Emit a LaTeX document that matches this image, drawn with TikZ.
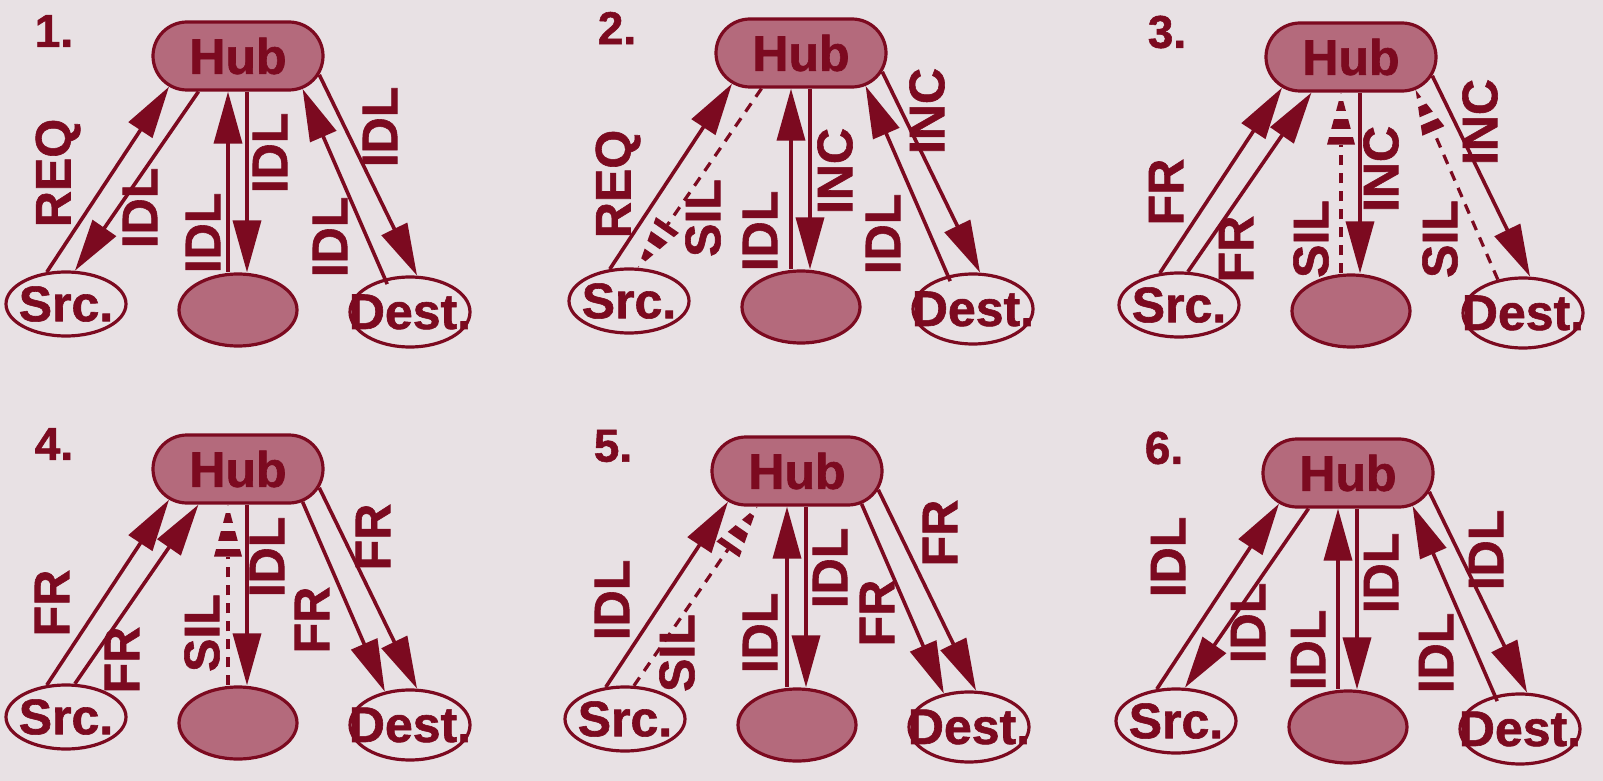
\documentclass[tikz,border=0pt]{standalone}
\usepackage{fontspec}
\setmainfont{Liberation Sans}[BoldFeatures={FakeBold=1.2}]
\usetikzlibrary{arrows.meta,calc,shapes.geometric,shapes.misc}
\definecolor{wine}{RGB}{124,10,32}
\definecolor{hubpink}{RGB}{180,106,124}
\definecolor{paper}{RGB}{232,225,228}

\tikzset{
  hubnode/.style={rounded rectangle,draw=wine,fill=hubpink,line width=1.6pt,
    minimum width=85pt,minimum height=34pt,inner sep=0pt},
  endnode/.style={ellipse,draw=wine,line width=1.6pt,inner sep=0pt,
    minimum width=60pt,minimum height=32pt},
  busynode/.style={endnode,fill=hubpink,minimum width=59pt,minimum height=36pt},
  msg/.style={draw=wine,line width=1.8pt,-{Triangle[length=26pt,width=14pt]}},
  sil/.style={draw=wine,line width=1.6pt,dash pattern=on 5pt off 4pt},
  silhead/.style={draw=wine,line width=16pt,dash pattern=on 5pt off 4pt},
  lab/.style={rotate=90,inner sep=0pt},
  num/.style={font=\fontsize{23}{23}\selectfont\bfseries,inner sep=0pt}
}

% hub, three stations and the step number of one panel
\newcommand{\station}[1]{%
  \node[num] (n#1) at (-184,25) {#1.};
  \node[hubnode] (hub#1) at (0,0) {Hub};
  \node[endnode,label=center:Src.] (src#1) at (-172,-248) {};
  \node[busynode] (mid#1) at (0,-254) {};
  \node[endnode,minimum height=35pt,label=center:Dest.] (dest#1) at (172,-256) {};
}
% dashed arrow with a striped head, #1 tail, #2 tip
\newcommand{\silarrow}[2]{%
  \begin{scope}
    \clip (#2) -- ($(#2)!26pt!(#1)!7pt!90:(#2)$)
      -- ($(#2)!26pt!(#1)!7pt!-90:(#2)$) -- cycle;
    \draw[silhead] (#1) -- (#2);
  \end{scope}
  \draw[sil] (#1) -- ($(#2)!26pt!(#1)$);
}

\begin{document}
\begin{tikzpicture}[x=0.5pt,y=0.5pt,text=wine,
    font=\fontsize{25}{25}\selectfont\bfseries]
  \fill[paper] (0,0) rectangle (1603,-781);

  % 1.
  \begin{scope}[shift={(238,-56)}]
    \station{1}
    \draw[msg] (src1.121) -- (hub1.204);
    \draw[msg] (hub1.222) -- (src1.75);
    \draw[msg] ([xshift=-5pt]mid1.north) -- ([xshift=-5pt]hub1.south);
    \draw[msg] ([xshift=4.5pt]hub1.south) -- ([xshift=4.5pt]mid1.north);
    \draw[msg,shorten <=-3pt] (dest1.127) -- (hub1.333);
    \draw[msg] (hub1.347) -- (dest1.79);
    \node[lab] (lab1a) at (-180,-117) {REQ};
    \node[lab] (lab1b) at (-98,-152) {IDL};
    \node[lab] (lab1c) at (-35,-177) {IDL};
    \node[lab] (lab1d) at (32,-97) {IDL};
    \node[lab] (lab1e) at (92,-181) {IDL};
    \node[lab] (lab1f) at (142,-71) {IDL};
  \end{scope}

  % 2.
  \begin{scope}[shift={(801,-53)}]
    \station{2}
    \draw[msg] (src2.121) -- (hub2.204);
    \silarrow{hub2.222}{src2.75}
    \draw[msg] ([xshift=-5pt]mid2.north) -- ([xshift=-5pt]hub2.south);
    \draw[msg] ([xshift=4.5pt]hub2.south) -- ([xshift=4.5pt]mid2.north);
    \draw[msg,shorten <=-3pt] (dest2.127) -- (hub2.333);
    \draw[msg] (hub2.347) -- (dest2.79);
    \node[lab] (lab2a) at (-183,-131) {REQ};
    \node[lab] (lab2b) at (-98,-165) {SIL};
    \node[lab] (lab2c) at (-41,-178) {IDL};
    \node[lab] (lab2d) at (34,-118) {INC};
    \node[lab] (lab2e) at (82,-181) {IDL};
    \node[lab] (lab2f) at (126,-58) {INC};
  \end{scope}

  % 3.
  \begin{scope}[shift={(1351,-57)}]
    \station{3}
    \draw[msg] (src3.121) -- (hub3.204);
    \draw[msg] (src3.75) -- (hub3.222);
    \silarrow{[xshift=-5pt]mid3.north}{[xshift=-5pt]hub3.south}
    \draw[msg] ([xshift=4.5pt]hub3.south) -- ([xshift=4.5pt]mid3.north);
    \silarrow{dest3.127}{hub3.333}
    \draw[msg] (hub3.347) -- (dest3.79);
    \node[lab] (lab3a) at (-185,-135) {FR};
    \node[lab] (lab3b) at (-115,-192) {FR};
    \node[lab] (lab3c) at (-40,-182) {SIL};
    \node[lab] (lab3d) at (30,-112) {INC};
    \node[lab] (lab3e) at (89,-182) {SIL};
    \node[lab] (lab3f) at (129,-65) {INC};
  \end{scope}

  % 4.
  \begin{scope}[shift={(238,-469)}]
    \station{4}
    \draw[msg] (src4.121) -- (hub4.204);
    \draw[msg] (src4.75) -- (hub4.222);
    \silarrow{[xshift=-5pt]mid4.north}{[xshift=-5pt]hub4.south}
    \draw[msg] ([xshift=4.5pt]hub4.south) -- ([xshift=4.5pt]mid4.north);
    \draw[msg] (hub4.333) -- (dest4.127);
    \draw[msg] (hub4.347) -- (dest4.79);
    \node[lab] (lab4a) at (-186,-134) {FR};
    \node[lab] (lab4b) at (-116,-191) {FR};
    \node[lab] (lab4c) at (-36,-164) {SIL};
    \node[lab] (lab4d) at (29,-88) {IDL};
    \node[lab] (lab4e) at (74,-151) {FR};
    \node[lab] (lab4f) at (135,-68) {FR};
  \end{scope}

  % 5.
  \begin{scope}[shift={(797,-471)}]
    \station{5}
    \draw[msg] (src5.121) -- (hub5.204);
    \silarrow{src5.75}{hub5.222}
    \draw[msg] ([xshift=-5pt]mid5.north) -- ([xshift=-5pt]hub5.south);
    \draw[msg] ([xshift=4.5pt]hub5.south) -- ([xshift=4.5pt]mid5.north);
    \draw[msg] (hub5.333) -- (dest5.127);
    \draw[msg] (hub5.347) -- (dest5.79);
    \node[lab] (lab5a) at (-185,-129) {IDL};
    \node[lab] (lab5b) at (-120,-182) {SIL};
    \node[lab] (lab5c) at (-37,-162) {IDL};
    \node[lab] (lab5d) at (33,-97) {IDL};
    \node[lab] (lab5e) at (80,-142) {FR};
    \node[lab] (lab5f) at (143,-62) {FR};
  \end{scope}

  % 6.
  \begin{scope}[shift={(1348,-473)}]
    \station{6}
    \draw[msg] (src6.121) -- (hub6.204);
    \draw[msg] (hub6.222) -- (src6.75);
    \draw[msg] ([xshift=-5pt]mid6.north) -- ([xshift=-5pt]hub6.south);
    \draw[msg] ([xshift=4.5pt]hub6.south) -- ([xshift=4.5pt]mid6.north);
    \draw[msg,shorten <=-3pt] (dest6.127) -- (hub6.333);
    \draw[msg] (hub6.347) -- (dest6.79);
    \node[lab] (lab6a) at (-180,-84) {IDL};
    \node[lab] (lab6b) at (-100,-150) {IDL};
    \node[lab] (lab6c) at (-40,-177) {IDL};
    \node[lab] (lab6d) at (33,-100) {IDL};
    \node[lab] (lab6e) at (88,-180) {IDL};
    \node[lab] (lab6f) at (138,-77) {IDL};
  \end{scope}
\end{tikzpicture}
\end{document}
